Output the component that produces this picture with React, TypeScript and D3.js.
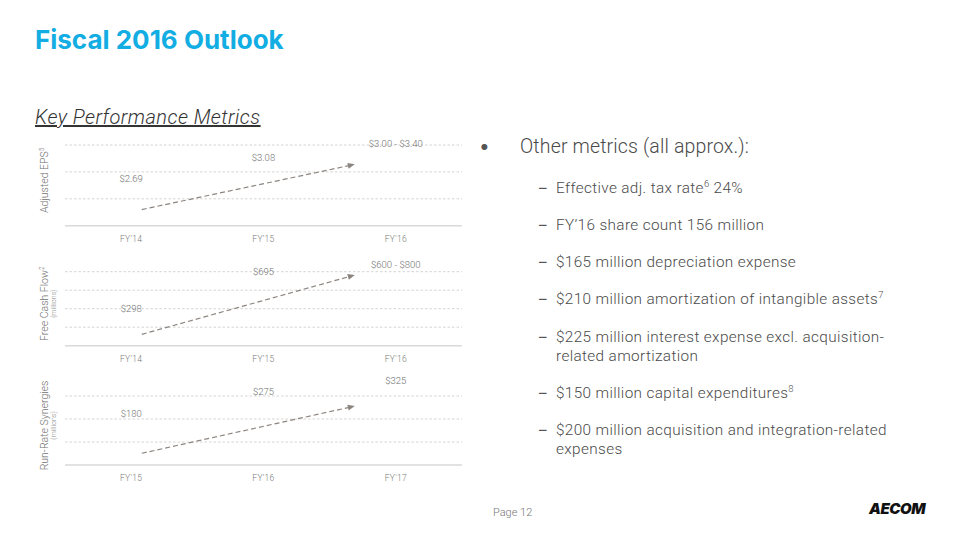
import React from "react";
import * as d3 from "d3";

// ---------- data ----------
const epsCategories = ["FY'14", "FY'15", "FY'16"];
const epsLow = [2.69, 3.08, 3.0];
const epsHigh = [2.69, 3.08, 3.4];
const epsLabels = ["$2.69", "$3.08", "$3.00 - $3.40"];
const epsTicks = [2.0, 2.5, 3.0, 3.5];
const epsArrow = [2.3, 3.14];

const fcfCategories = ["FY'14", "FY'15", "FY'16"];
const fcfLow = [298, 695, 600];
const fcfHigh = [298, 695, 800];
const fcfLabels = ["$298", "$695", "$600 - $800"];
const fcfTicks = [0, 200, 400, 600, 800];
const fcfArrow = [123, 764];

const synCategories = ["FY'15", "FY'16", "FY'17"];
const synLow = [180, 275, 325];
const synHigh = [180, 275, 325];
const synLabels = ["$180", "$275", "$325"];
const synTicks = [0, 100, 200, 300];
const synArrow = [51, 256];

const otherMetricsHeader = "Other metrics (all approx.):";
const otherMetrics: { parts: [string, string, string][] }[] = [
  { parts: [["Effective adj. tax rate", "6", " 24%"]] },
  { parts: [["FY\u201916 share count 156 million", "", ""]] },
  { parts: [["$165 million depreciation expense", "", ""]] },
  { parts: [["$210 million amortization of intangible assets", "7", ""]] },
  {
    parts: [
      ["$225 million interest expense excl. acquisition-", "", ""],
      ["related amortization", "", ""],
    ],
  },
  { parts: [["$150 million capital expenditures", "8", ""]] },
  {
    parts: [
      ["$200 million acquisition and integration-related", "", ""],
      ["expenses", "", ""],
    ],
  },
];

const FONT = "Inter, 'Noto Sans', Roboto, Arial, sans-serif";
const LIGHT = "Roboto, Inter, 'Noto Sans', Arial, sans-serif";

type ChartProps = {
  top: number;
  bottom: number;
  categories: string[];
  low: number[];
  high: number[];
  labels: string[];
  ticks: number[];
  arrow: number[];
  title: string;
  titleSup: string;
  subtitle?: string;
};

const MiniChart: React.FC<ChartProps> = ({
  top,
  bottom,
  categories,
  low,
  high,
  labels,
  ticks,
  arrow,
  title,
  titleSup,
  subtitle,
}) => {
  const left = 65;
  const right = 462;
  const x = d3.scalePoint<string>().domain(categories).range([left, right]).padding(0.5);
  const y = d3
    .scaleLinear()
    .domain([ticks[0], ticks[ticks.length - 1]])
    .range([bottom, top]);
  const step = x.step();
  const ax1 = (x(categories[0]) as number) + 0.08 * step;
  const ax2 = (x(categories[2]) as number) - 0.31 * step;
  const ay1 = y(arrow[0]);
  const ay2 = y(arrow[1]);
  const ang = Math.atan2(ay2 - ay1, ax2 - ax1);
  const headLen = 7;
  const headW = 3;
  const bx = ax2 - headLen * Math.cos(ang);
  const by = ay2 - headLen * Math.sin(ang);
  const px = -Math.sin(ang) * headW;
  const py = Math.cos(ang) * headW;
  const mid = (top + bottom) / 2 - 5;

  return (
    <g>
      {ticks.slice(1).map((t) => (
        <line
          key={t}
          x1={left}
          x2={right}
          y1={y(t)}
          y2={y(t)}
          stroke="#d4d4d4"
          strokeWidth={1}
          strokeDasharray="2.5,2"
        />
      ))}
      <line x1={left} x2={right} y1={bottom} y2={bottom} stroke="#d9d9d9" strokeWidth={1.5} />
      {categories.map((c) => (
        <text
          key={c}
          x={x(c)}
          y={bottom + 16}
          textAnchor="middle"
          fontSize={8.5}
          fill="#777"
          fontFamily={LIGHT}
          fontWeight={300}
          letterSpacing={0.3}
        >
          {c}
        </text>
      ))}
      {labels.map((l, i) => (
        <text
          key={l}
          x={x(categories[i])}
          y={y(high[i]) - (low[i] === high[i] ? 10 : 7) + 3.5}
          textAnchor="middle"
          fontSize={9.5}
          fill="#6f6f6f"
          fontFamily={LIGHT}
          fontWeight={300}
        >
          {l}
        </text>
      ))}
      <line
        x1={ax1}
        y1={ay1}
        x2={bx}
        y2={by}
        stroke="#8c857f"
        strokeWidth={1.2}
        strokeDasharray="5,3"
      />
      <polygon
        points={`${ax2},${ay2} ${bx + px},${by + py} ${bx - px},${by - py}`}
        fill="#8c857f"
      />
      <text
        transform={`translate(48,${mid}) rotate(-90)`}
        textAnchor="middle"
        fontSize={10.5}
        fill="#707070"
        fontFamily={LIGHT}
        fontWeight={300}
      >
        {title}
        {titleSup && (
          <tspan fontSize={6.5} dy={-4}>
            {titleSup}
          </tspan>
        )}
      </text>
      {subtitle && (
        <text
          transform={`translate(55.5,${mid}) rotate(-90)`}
          textAnchor="middle"
          fontSize={7}
          fill="#8a8a8a"
          fontFamily={LIGHT}
          fontWeight={300}
        >
          {subtitle}
        </text>
      )}
    </g>
  );
};

export default function App() {
  const baselines = [193, 230, 267, 304, 342, 398, 435];
  return (
    <svg
      width={960}
      height={540}
      style={{ position: "absolute", left: 0, top: 0, background: "#fff" }}
    >
      <text x={35} y={49} fontSize={26} fontWeight={700} fill="#12ade3" fontFamily={FONT}>
        Fiscal 2016 Outlook
      </text>
      <text
        x={35}
        y={124}
        fontSize={20}
        fontStyle="italic"
        fontWeight={300}
        fill="#333"
        textDecoration="underline"
        fontFamily={LIGHT}
        letterSpacing={0.45}
      >
        Key Performance Metrics
      </text>

      <MiniChart
        top={145}
        bottom={225.7}
        categories={epsCategories}
        low={epsLow}
        high={epsHigh}
        labels={epsLabels}
        ticks={epsTicks}
        arrow={epsArrow}
        title="Adjusted EPS"
        titleSup="5"
      />
      <MiniChart
        top={271.7}
        bottom={345.7}
        categories={fcfCategories}
        low={fcfLow}
        high={fcfHigh}
        labels={fcfLabels}
        ticks={fcfTicks}
        arrow={fcfArrow}
        title="Free Cash Flow"
        titleSup="2"
        subtitle="(millions)"
      />
      <MiniChart
        top={396}
        bottom={465}
        categories={synCategories}
        low={synLow}
        high={synHigh}
        labels={synLabels}
        ticks={synTicks}
        arrow={synArrow}
        title="Run-Rate Synergies"
        titleSup=""
        subtitle="(millions)"
      />

      <text x={479} y={153} fontSize={19} fill="#555" fontFamily={FONT}>
        •
      </text>
      <text
        x={520}
        y={153}
        fontSize={19.5}
        fontWeight={300}
        fill="#4a4a4a"
        fontFamily={LIGHT}
        letterSpacing={0.15}
      >
        {otherMetricsHeader}
      </text>
      {otherMetrics.map((m, i) => (
        <g key={i}>
          <text x={539} y={baselines[i]} fontSize={15} fill="#555" fontFamily={FONT}>
            –
          </text>
          {m.parts.map((p, j) => (
            <text
              key={j}
              x={556}
              y={baselines[i] + j * 18.5}
              fontSize={15.3}
              fontWeight={300}
              fill="#4a4a4a"
              fontFamily={LIGHT}
              letterSpacing={0.37}
            >
              {p[0]}
              {p[1] && (
                <tspan fontSize={9.5} dy={-6}>
                  {p[1]}
                </tspan>
              )}
              {p[2] && <tspan dy={p[1] ? 6 : 0}>{p[2]}</tspan>}
            </text>
          ))}
        </g>
      ))}

      <text x={493} y={516} fontSize={11} fontWeight={300} fill="#777" fontFamily={LIGHT}>
        Page 12
      </text>
      <text
        x={925}
        y={514}
        textAnchor="end"
        fontSize={15}
        fontWeight={900}
        fontStyle="italic"
        fill="#111"
        fontFamily={FONT}
        letterSpacing={-0.5}
      >
        AECOM
      </text>
    </svg>
  );
}
